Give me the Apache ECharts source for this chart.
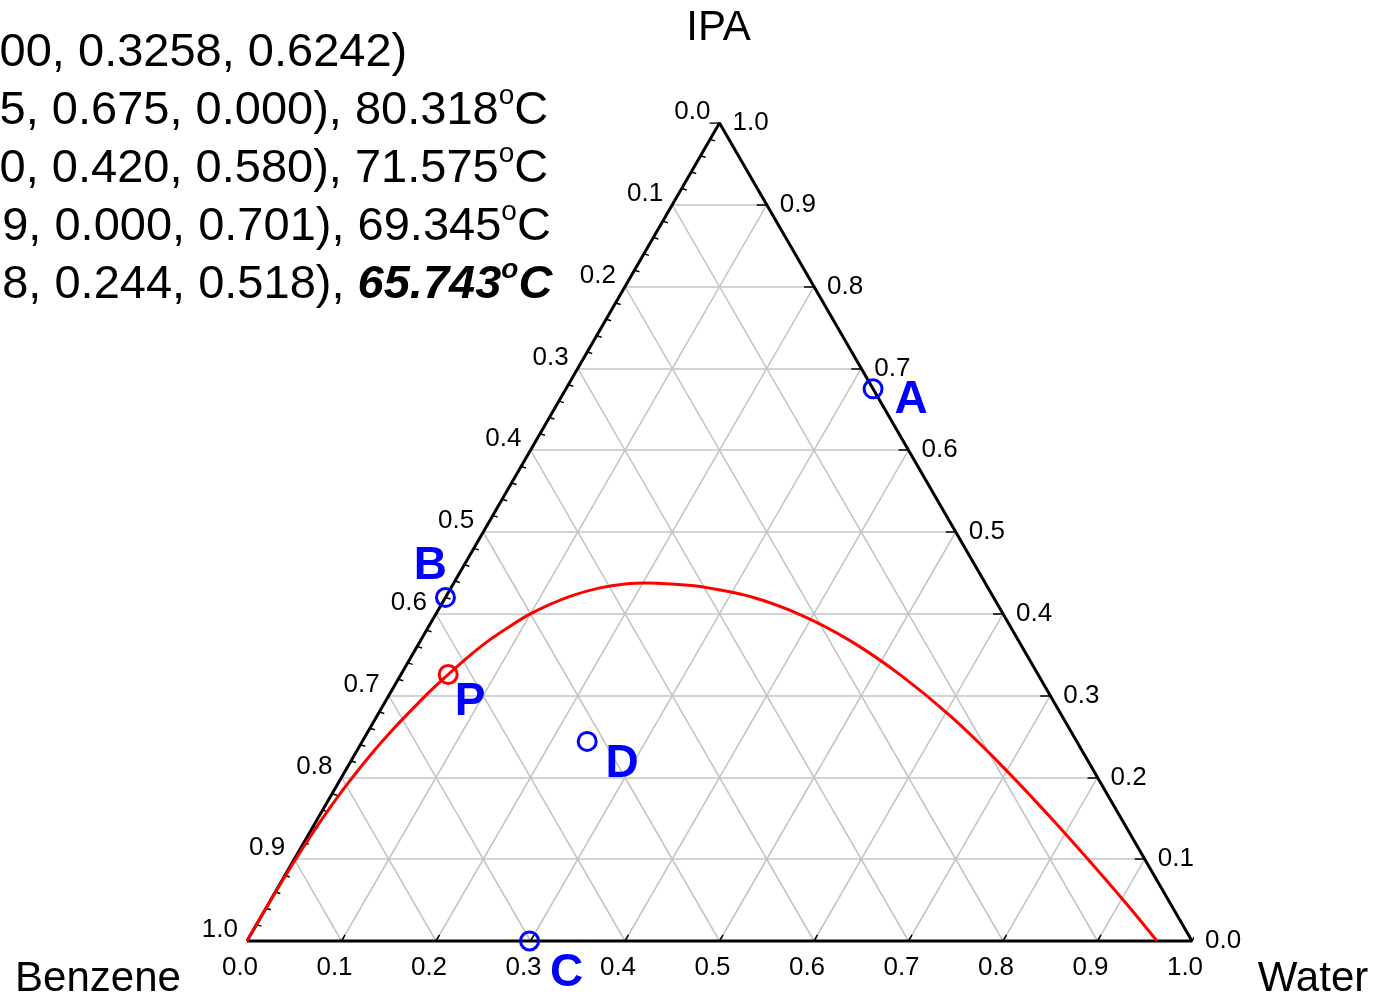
<!DOCTYPE html>
<html>
<head>
<meta charset="utf-8">
<script src="https://cdn.jsdelivr.net/npm/echarts@6/dist/echarts.min.js"></script>
<style>
  html, body { margin: 0; padding: 0; background: #ffffff; }
  #chart { width: 1374px; height: 997px; }
</style>
</head>
<body>
<div id="chart"></div>
<script>
// Mole fractions of each marked composition, listed as (water, IPA, benzene)
const pointNames = ['P', 'A', 'B', 'C', 'D'];
const waterFrac = [0.0500, 0.325, 0.000, 0.299, 0.238];
const ipaFrac = [0.3258, 0.675, 0.420, 0.000, 0.244];
const benzeneFrac = [0.6242, 0.000, 0.580, 0.701, 0.518];
const fracDigits = [4, 3, 3, 3, 3];
const boilingPointsC = [null, 80.318, 71.575, 69.345, 65.743];

// Liquid-liquid envelope (binodal curve): water and IPA mole fractions
const binodalWater = [0, 0.0002, 0.0015, 0.0049, 0.0116, 0.0226, 0.039, 0.050, 0.0614,
  0.0729, 0.0859, 0.0982, 0.1149, 0.1337, 0.1577, 0.1818, 0.2024, 0.2349, 0.2628, 0.3218,
  0.3857, 0.4545, 0.5282, 0.6062, 0.6885, 0.7738, 0.8610, 0.9142, 0.963];
const binodalIpa = [0, 0.05, 0.10, 0.15, 0.20, 0.25, 0.30, 0.3258, 0.3492,
  0.3684, 0.3849, 0.3984, 0.4115, 0.4226, 0.4317, 0.4365, 0.4376, 0.4360, 0.4333, 0.4211,
  0.3990, 0.3672, 0.3256, 0.2754, 0.2166, 0.1518, 0.0832, 0.0404, 0];

// Axis tick labels shared by the three edges
const tickLabels = ['0.0', '0.1', '0.2', '0.3', '0.4', '0.5', '0.6', '0.7', '0.8', '0.9', '1.0'];
const vertexNames = ['Benzene', 'Water', 'IPA'];

// ---- layout / style ----
const FONT = '"Liberation Sans", Arial, Helvetica, sans-serif';
const H = Math.sqrt(3) / 2;
const PX = 1 / 945; // one pixel in data units (triangle side spans 945 px)
const pointColors = { P: '#ff0000', A: '#0000ff', B: '#0000ff', C: '#0000ff', D: '#0000ff' };
const pointLabelOffsets = { P: [22, 28], A: [38, 11], B: [-15, -31], C: [37, 32], D: [35, 23] };
const vertexLabelOffsets = { Benzene: [-149, 38], Water: [121, 38], IPA: [-1, -95] };

// ternary (water, ipa) -> cartesian
function toXY(w, ipa) { return [w + ipa / 2, ipa * H]; }

const tickVals = tickLabels.map(Number);

// grid lines at the inner tick values
const gridSegs = [];
tickVals.filter(v => v > 0 && v < 1).forEach(k => {
  gridSegs.push({ coords: [toXY(0, k), toXY(1 - k, k)] });     // constant IPA
  gridSegs.push({ coords: [toXY(k, 0), toXY(k, 1 - k)] });     // constant water
  gridSegs.push({ coords: [toXY(1 - k, 0), toXY(0, 1 - k)] }); // constant benzene
});

// tick marks
const tickSegs = [];
tickVals.forEach(v => {
  // bottom edge (water): short stroke up-right
  const b = toXY(v, 0);
  tickSegs.push({ coords: [b, [b[0] + 0.5 * 7 * PX, b[1] + H * 7 * PX]] });
  // right edge (IPA): short stroke to the left
  const r = toXY(1 - v, v);
  tickSegs.push({ coords: [r, [r[0] - 10 * PX, r[1]]] });
});
// left edge (benzene) minor ticks every 0.02
for (let i = 1; i < 50; i++) {
  if (i % 5 === 0) continue;
  const bz = i / 50;
  const p = toXY(0, 1 - bz);
  tickSegs.push({ coords: [p, [p[0] + 5 * PX, p[1] - 1.5 * PX]] });
}

const tickLabelStyle = { show: true, formatter: '{b}', fontSize: 26, fontFamily: FONT, color: '#000' };

const bottomLabels = tickLabels.map((t, i) => ({ name: t, value: toXY(tickVals[i], 0) }));
const leftLabels = tickLabels.map((t, i) => ({ name: t, value: toXY(0, 1 - tickVals[i]) }));
const rightLabels = tickLabels.map((t, i) => ({ name: t, value: toXY(1 - tickVals[i], tickVals[i]) }));

const triangle = [toXY(0, 0), toXY(1, 0), toXY(0, 1), toXY(0, 0)];
const binodal = binodalWater.map((w, i) => toXY(w, binodalIpa[i]));

const points = pointNames.map((n, i) => ({
  name: n,
  value: toXY(waterFrac[i], ipaFrac[i]),
  itemStyle: { color: 'rgba(0,0,0,0)', borderColor: pointColors[n], borderWidth: 3, opacity: 1 },
  label: { offset: pointLabelOffsets[n] }
}));

const vertices = [
  { name: 'Benzene', value: toXY(0, 0) },
  { name: 'Water', value: toXY(1, 0) },
  { name: 'IPA', value: toXY(0, 1) }
].map(v => ({ ...v, label: { offset: vertexLabelOffsets[v.name] } }));

// composition list, one text line per point
const textLines = pointNames.map((n, i) => {
  const d = fracDigits[i];
  const comp = `${n}: (${waterFrac[i].toFixed(d)}, ${ipaFrac[i].toFixed(d)}, ${benzeneFrac[i].toFixed(d)})`;
  const t = boilingPointsC[i];
  if (t === null) return `{n|${comp}}`;
  if (i === pointNames.length - 1) return `{n|${comp}, }{b|${t.toFixed(3)}}{bs|o}{b|C}`;
  return `{n|${comp}, ${t.toFixed(3)}}{s|o}{n|C}`;
});

const richStyles = {
  n: { fontSize: 47, fontFamily: FONT, color: '#000', lineHeight: 58 },
  s: { fontSize: 28, fontFamily: FONT, color: '#000', lineHeight: 36, verticalAlign: 'top' },
  b: { fontSize: 47, fontFamily: FONT, color: '#000', lineHeight: 58, fontWeight: 'bold', fontStyle: 'italic' },
  bs: { fontSize: 28, fontFamily: FONT, color: '#000', lineHeight: 36, verticalAlign: 'top', fontWeight: 'bold', fontStyle: 'italic' }
};

const textGraphics = textLines.map((t, i) => ({
  type: 'text',
  x: -165,
  y: 53 + i * 58,
  style: { text: t, rich: richStyles, align: 'left', verticalAlign: 'middle' }
}));

const solid = { opacity: 1 };

const chart = echarts.init(document.getElementById('chart'), null, { renderer: 'canvas' });
chart.setOption({
  animation: false,
  backgroundColor: '#ffffff',
  grid: { left: 247, top: 123, width: 945, height: 818 },
  xAxis: { type: 'value', min: 0, max: 1, show: false },
  yAxis: { type: 'value', min: 0, max: H, show: false },
  graphic: textGraphics,
  series: [
    {
      type: 'lines', coordinateSystem: 'cartesian2d', z: 1, silent: true,
      lineStyle: { color: '#c4c4c4', width: 1.5, opacity: 1 },
      data: gridSegs
    },
    {
      type: 'lines', coordinateSystem: 'cartesian2d', z: 3, silent: true,
      lineStyle: { color: '#000', width: 1.5, opacity: 1 },
      data: tickSegs
    },
    {
      type: 'line', z: 4, silent: true, showSymbol: false, clip: false,
      lineStyle: { color: '#000', width: 3 },
      data: triangle
    },
    {
      type: 'line', z: 5, silent: true, showSymbol: false, clip: false, smooth: 0.3,
      lineStyle: { color: '#ff0000', width: 3 },
      data: binodal
    },
    {
      type: 'scatter', z: 6, silent: true, symbolSize: 0, itemStyle: solid,
      label: { ...tickLabelStyle, position: 'inside', offset: [-7, 27] },
      data: bottomLabels
    },
    {
      type: 'scatter', z: 6, silent: true, symbolSize: 0, itemStyle: solid,
      label: { ...tickLabelStyle, position: 'left', distance: 9, offset: [0, -11] },
      data: leftLabels
    },
    {
      type: 'scatter', z: 6, silent: true, symbolSize: 0, itemStyle: solid,
      label: { ...tickLabelStyle, position: 'right', distance: 13 },
      data: rightLabels
    },
    {
      type: 'scatter', z: 7, silent: true, symbol: 'circle', symbolSize: 18, clip: false,
      itemStyle: solid,
      label: {
        show: true, formatter: '{b}', position: 'inside',
        fontSize: 46, fontWeight: 'bold', fontFamily: FONT, color: '#0000ff'
      },
      data: points
    },
    {
      type: 'scatter', z: 6, silent: true, symbolSize: 0, itemStyle: solid,
      label: { show: true, formatter: '{b}', position: 'inside', fontSize: 42, fontFamily: FONT, color: '#000' },
      data: vertices
    }
  ]
});
</script>
</body>
</html>
